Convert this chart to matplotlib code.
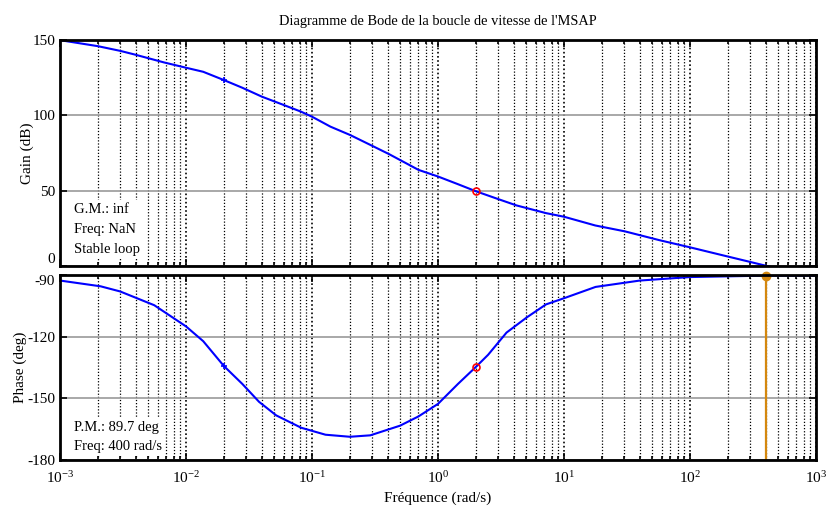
import matplotlib
matplotlib.use('Agg')
import matplotlib.pyplot as plt
from matplotlib.ticker import LogLocator, LogFormatterSciNotation, NullFormatter

plt.rcParams['font.family'] = 'Liberation Serif'
plt.rcParams['mathtext.fontset'] = 'custom'
plt.rcParams['mathtext.rm'] = 'Liberation Serif'
plt.rcParams['axes.unicode_minus'] = False

# values
freq_gain = [1e-3, 2e-3, 3e-3, 3.9e-3, 6.7e-3, 1e-2, 1.37e-2, 2e-2, 2.8e-2, 4e-2, 5.7e-2, 8.2e-2,
             0.1, 0.14, 0.2, 0.29, 0.41, 0.7, 1, 1.44, 2, 2.96, 4.2, 7.2, 10, 17.7, 30.4, 56.8,
             100, 182, 390, 1000]
gain_db = [149.9, 145.9, 142.8, 140.4, 135.1, 131.6, 128.9, 123.4, 118.3, 112.4, 107.5, 102.4,
           99.1, 92.5, 87, 80.4, 74.2, 63.8, 59.4, 54.3, 49.6, 44.6, 40.2, 35.1, 32.7, 26.9, 23, 17.2,
           12.4, 7.1, 0.4, -8]

freq_phase = [1e-3, 2.1e-3, 3e-3, 5.6e-3, 1e-2, 1.37e-2, 2e-2, 2.8e-2, 3.8e-2, 5.2e-2, 8.2e-2,
              0.128, 0.2, 0.29, 0.5, 0.7, 1, 1.44, 2, 2.5, 3.5, 5.1, 7.2, 10, 17.8, 40, 100, 400, 1000]
phase_deg = [-92.7, -95.5, -98, -104.7, -115, -122.2, -134.3, -143, -151.7, -158.3, -164.3,
             -167.7, -168.7, -168, -163.3, -158.8, -152.7, -143, -134.7, -128.8, -118, -110.5,
             -104.3, -101.3, -95.8, -92.7, -91, -90.3, -90.3]

w_mark = 2
gain_mark = 49.6
phase_mark = -134.7
w_small = 0.02
gain_small = 123.4
phase_small = -134.3
w_cross = 400
pm_phase = -90.3

title = "Diagramme de Bode de la boucle de vitesse de l'MSAP"
gain_text = "G.M.: inf\nFreq: NaN\nStable loop"
phase_text = "P.M.: 89.7 deg\nFreq: 400 rad/s"

fig = plt.figure(figsize=(8.26, 5.11), dpi=100)
ax1 = fig.add_axes([60/826, (511-266)/511, 756/826, 226/511])
ax2 = fig.add_axes([60/826, (511-460)/511, 756/826, 185/511])

line_color = '#0000ff'
orange = '#d4880f'


def style_axis(ax, yticks, ylim):
    ax.set_xscale('log')
    ax.set_xlim(1e-3, 1e3)
    ax.set_ylim(*ylim)
    ax.set_yticks(yticks)
    ax.xaxis.set_major_locator(LogLocator(base=10, numticks=10))
    ax.xaxis.set_minor_locator(LogLocator(base=10, subs=range(2, 10), numticks=20))
    ax.xaxis.set_minor_formatter(NullFormatter())
    ax.grid(True, which='major', axis='x', color='black', linestyle=(0, (1, 1.5)), linewidth=1.2)
    ax.grid(True, which='minor', axis='x', color='black', linestyle=(0, (1, 1.5)), linewidth=0.9)
    ax.grid(True, which='major', axis='y', color='#9a9a9a', linestyle='-', linewidth=1.2)
    ax.tick_params(which='both', direction='in', top=True, right=True, labelsize=11, width=1.2)
    ax.tick_params(which='major', length=5)
    ax.tick_params(which='minor', length=3)
    for s in ax.spines.values():
        s.set_linewidth(2)
    ax.set_axisbelow(True)


style_axis(ax1, [0, 50, 100, 150], (0, 150))
style_axis(ax2, [-180, -150, -120, -90], (-180, -90))
ax1.xaxis.set_major_formatter(NullFormatter())
ax2.xaxis.set_major_formatter(LogFormatterSciNotation())
ax2.tick_params(axis='x', which='major', pad=7)

# keep "0" and "-90" apart like in the reference
fig.canvas.draw()
ax1.get_yticklabels()[0].set_va('bottom')
ax2.get_yticklabels()[-1].set_va('top')

ax1.plot(freq_gain, gain_db, color=line_color, linewidth=1.5)
ax1.plot([w_small], [gain_small], marker='+', color=line_color, markersize=5, mew=1.2)
ax1.plot([w_mark], [gain_mark], marker='o', mfc='none', mec='red', markersize=5, mew=1.2)

ax2.plot(freq_phase, phase_deg, color=line_color, linewidth=1.5)
ax2.plot([w_small], [phase_small], marker='+', color=line_color, markersize=4, mew=1.2)
ax2.plot([w_mark], [phase_mark], marker='o', mfc='none', mec='red', markersize=5, mew=1.2)
ax2.plot([w_cross, w_cross], [-180, pm_phase], color=orange, linewidth=1.6, clip_on=False)
ax2.plot([w_cross], [pm_phase], marker='o', color=orange, markersize=6, clip_on=False)

ax1.text(0.019, 0.045, gain_text, transform=ax1.transAxes, fontsize=10.5, va='bottom', ha='left',
         linespacing=1.7, bbox=dict(facecolor='white', edgecolor='none', pad=2))
ax2.text(0.019, 0.04, phase_text, transform=ax2.transAxes, fontsize=10.5, va='bottom', ha='left',
         linespacing=1.55, bbox=dict(facecolor='white', edgecolor='none', pad=2))

ax1.set_ylabel('Gain (dB)', fontsize=11)
ax2.set_ylabel('Phase (deg)', fontsize=11)
ax1.yaxis.set_label_coords(-0.035, 0.5)
ax2.yaxis.set_label_coords(-0.043, 0.5)
ax2.set_xlabel('Fréquence (rad/s)', fontsize=11, labelpad=4)
fig.text(438/826, 1 - 21/511, title, ha='center', va='center', fontsize=10.4)

plt.savefig('out.png', dpi=100)
